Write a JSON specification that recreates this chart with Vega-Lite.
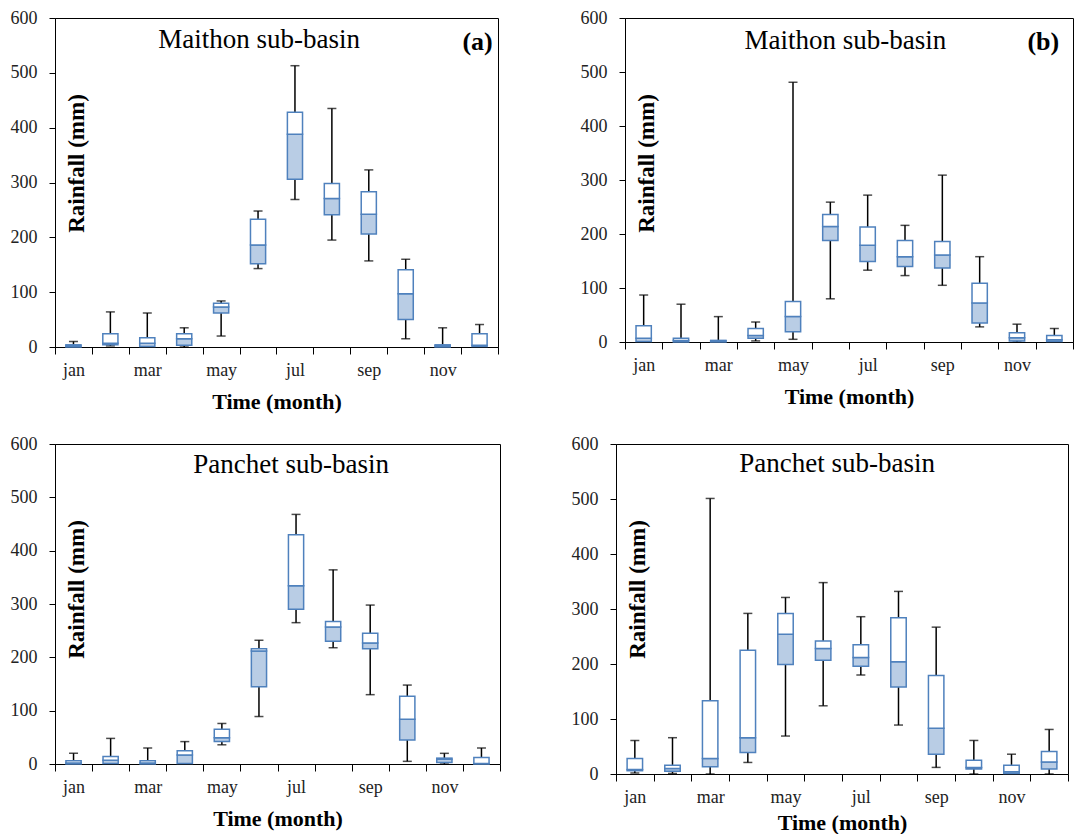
{
  "$schema": "https://vega.github.io/schema/vega-lite/v6.json",
  "padding": {"left": 9, "top": 8, "right": 0, "bottom": 0},
  "background": "white",
  "config": {
    "font": "Liberation Serif",
    "view": {"stroke": "black", "strokeWidth": 1},
    "text": {"font": "Liberation Serif"},
    "axis": {"grid": false, "domainColor": "black", "tickColor": "black", "labelColor": "#222", "titleColor": "black", "labelFont": "Liberation Serif", "titleFont": "Liberation Serif", "labelFontSize": 18, "labelFontWeight": "normal"},
    "axisX": {"tickBand": "extent", "tickSize": 7, "labelPadding": 7, "labelAngle": 0, "labelOverlap": false, "titleFontSize": 22, "titleFontWeight": "bold", "titlePadding": 12, "labelExpr": "indexof(['jan','mar','may','jul','sep','nov'], datum.value) >= 0 ? datum.value : ''"},
    "axisY": {"tickSize": 6, "labelPadding": 12, "titleFontSize": 23, "titleFontWeight": "bold", "titleAngle": -90, "titleAlign": "center", "titleBaseline": "middle", "titleX": 21, "titleY": 145}
  },
  "datasets": {
    "a": [
      {"month": "jan", "min": 0, "q1": 0, "med": 2, "q3": 4, "max": 10},
      {"month": "feb", "min": 2, "q1": 4, "med": 7, "q3": 24, "max": 64},
      {"month": "mar", "min": 0, "q1": 1, "med": 7, "q3": 17, "max": 62},
      {"month": "apr", "min": 0, "q1": 3, "med": 15, "q3": 24, "max": 35},
      {"month": "may", "min": 20, "q1": 62, "med": 73, "q3": 80, "max": 84},
      {"month": "jun", "min": 143, "q1": 152, "med": 186, "q3": 233, "max": 248},
      {"month": "jul", "min": 269, "q1": 306, "med": 388, "q3": 428, "max": 513},
      {"month": "aug", "min": 195, "q1": 241, "med": 271, "q3": 298, "max": 435},
      {"month": "sep", "min": 157, "q1": 206, "med": 242, "q3": 283, "max": 323},
      {"month": "oct", "min": 15, "q1": 50, "med": 97, "q3": 141, "max": 160},
      {"month": "nov", "min": 0, "q1": 0, "med": 2, "q3": 4, "max": 35},
      {"month": "dec", "min": 0, "q1": 1, "med": 3, "q3": 24, "max": 41}
    ],
    "b": [
      {"month": "jan", "min": 0, "q1": 1, "med": 7, "q3": 30, "max": 87},
      {"month": "feb", "min": 0, "q1": 0, "med": 3, "q3": 7, "max": 70},
      {"month": "mar", "min": 0, "q1": 0, "med": 2, "q3": 3, "max": 47},
      {"month": "apr", "min": 2, "q1": 7, "med": 12, "q3": 25, "max": 37},
      {"month": "may", "min": 5, "q1": 19, "med": 47, "q3": 75, "max": 481},
      {"month": "jun", "min": 80, "q1": 188, "med": 214, "q3": 236, "max": 259},
      {"month": "jul", "min": 133, "q1": 149, "med": 179, "q3": 213, "max": 272},
      {"month": "aug", "min": 123, "q1": 140, "med": 158, "q3": 188, "max": 216},
      {"month": "sep", "min": 105, "q1": 137, "med": 161, "q3": 186, "max": 309},
      {"month": "oct", "min": 28, "q1": 35, "med": 72, "q3": 109, "max": 158},
      {"month": "nov", "min": 0, "q1": 2, "med": 8, "q3": 17, "max": 33},
      {"month": "dec", "min": 0, "q1": 1, "med": 4, "q3": 12, "max": 25}
    ],
    "c": [
      {"month": "jan", "min": 0, "q1": 0, "med": 2, "q3": 6, "max": 20},
      {"month": "feb", "min": 0, "q1": 1, "med": 7, "q3": 14, "max": 48},
      {"month": "mar", "min": 0, "q1": 0, "med": 2, "q3": 6, "max": 30},
      {"month": "apr", "min": 0, "q1": 1, "med": 17, "q3": 25, "max": 42},
      {"month": "may", "min": 36, "q1": 42, "med": 49, "q3": 65, "max": 76},
      {"month": "jun", "min": 89, "q1": 145, "med": 212, "q3": 216, "max": 232},
      {"month": "jul", "min": 265, "q1": 290, "med": 334, "q3": 430, "max": 468},
      {"month": "aug", "min": 218, "q1": 230, "med": 257, "q3": 267, "max": 364},
      {"month": "sep", "min": 130, "q1": 216, "med": 227, "q3": 245, "max": 298},
      {"month": "oct", "min": 5, "q1": 45, "med": 84, "q3": 127, "max": 148},
      {"month": "nov", "min": 0, "q1": 3, "med": 9, "q3": 11, "max": 20},
      {"month": "dec", "min": 0, "q1": 0, "med": 1, "q3": 12, "max": 30}
    ],
    "d": [
      {"month": "jan", "min": 2, "q1": 6, "med": 8, "q3": 28, "max": 61},
      {"month": "feb", "min": 1, "q1": 5, "med": 10, "q3": 16, "max": 66},
      {"month": "mar", "min": 0, "q1": 13, "med": 28, "q3": 133, "max": 501},
      {"month": "apr", "min": 21, "q1": 39, "med": 66, "q3": 225, "max": 292},
      {"month": "may", "min": 69, "q1": 199, "med": 254, "q3": 292, "max": 321},
      {"month": "jun", "min": 124, "q1": 207, "med": 228, "q3": 242, "max": 348},
      {"month": "jul", "min": 180, "q1": 196, "med": 212, "q3": 235, "max": 286},
      {"month": "aug", "min": 89, "q1": 158, "med": 204, "q3": 284, "max": 332},
      {"month": "sep", "min": 12, "q1": 36, "med": 83, "q3": 179, "max": 267},
      {"month": "oct", "min": 0, "q1": 9, "med": 12, "q3": 25, "max": 61},
      {"month": "nov", "min": 0, "q1": 1, "med": 4, "q3": 16, "max": 36},
      {"month": "dec", "min": 0, "q1": 9, "med": 22, "q3": 41, "max": 81}
    ]
  },
  "vconcat": [
    {
      "hconcat": [
        {
          "width": 443, "height": 329,
          "data": {"name": "a"},
          "encoding": {"x": {"field": "month", "type": "nominal", "scale": {"domain": ["jan","feb","mar","apr","may","jun","jul","aug","sep","oct","nov","dec"], "paddingInner": 0, "paddingOuter": 0}, "axis": {"title": "Time (month)", "labelFont": "Liberation Serif"}}},
          "layer": [
            {"mark": {"type": "rule", "color": "black", "strokeWidth": 1.5}, "encoding": {"y": {"field": "min", "type": "quantitative", "scale": {"domain": [0, 600], "nice": false}, "axis": {"title": "Rainfall (mm)", "values": [0, 100, 200, 300, 400, 500, 600], "labelFont": "Liberation Serif"}}, "y2": {"field": "max"}}},
            {"mark": {"type": "tick", "color": "black", "size": 9, "thickness": 1.5}, "encoding": {"y": {"field": "max", "type": "quantitative"}}},
            {"mark": {"type": "tick", "color": "black", "size": 9, "thickness": 1.5}, "encoding": {"y": {"field": "min", "type": "quantitative"}}},
            {"mark": {"type": "bar", "fill": "#b9cde5", "stroke": "#4f81bd", "strokeWidth": 1.5, "width": {"band": 0.41}}, "encoding": {"y": {"field": "q1", "type": "quantitative"}, "y2": {"field": "med"}}},
            {"mark": {"type": "bar", "fill": "white", "stroke": "#4f81bd", "strokeWidth": 1.5, "width": {"band": 0.41}}, "encoding": {"y": {"field": "med", "type": "quantitative"}, "y2": {"field": "q3"}}},
            {"data": {"values": [{"month": "jun", "y": 545, "label": "Maithon sub-basin"}]}, "mark": {"type": "text", "font": "Liberation Serif", "fontSize": 27, "color": "black", "align": "center", "baseline": "alphabetic", "dx": 1}, "encoding": {"y": {"field": "y", "type": "quantitative"}, "text": {"field": "label"}}},
            {"data": {"values": [{"month": "dec", "y": 542, "label": "(a)"}]}, "mark": {"type": "text", "font": "Liberation Serif", "fontSize": 26, "fontWeight": "bold", "color": "black", "align": "center", "baseline": "alphabetic", "dx": -2}, "encoding": {"y": {"field": "y", "type": "quantitative"}, "text": {"field": "label"}}}
          ]
        },
        {
          "width": 448, "height": 324,
          "data": {"name": "b"},
          "encoding": {"x": {"field": "month", "type": "nominal", "scale": {"domain": ["jan","feb","mar","apr","may","jun","jul","aug","sep","oct","nov","dec"], "paddingInner": 0, "paddingOuter": 0}, "axis": {"title": "Time (month)", "labelFont": "Liberation Serif"}}},
          "layer": [
            {"mark": {"type": "rule", "color": "black", "strokeWidth": 1.5}, "encoding": {"y": {"field": "min", "type": "quantitative", "scale": {"domain": [0, 600], "nice": false}, "axis": {"title": "Rainfall (mm)", "values": [0, 100, 200, 300, 400, 500, 600], "labelFont": "Liberation Serif"}}, "y2": {"field": "max"}}},
            {"mark": {"type": "tick", "color": "black", "size": 9, "thickness": 1.5}, "encoding": {"y": {"field": "max", "type": "quantitative"}}},
            {"mark": {"type": "tick", "color": "black", "size": 9, "thickness": 1.5}, "encoding": {"y": {"field": "min", "type": "quantitative"}}},
            {"mark": {"type": "bar", "fill": "#b9cde5", "stroke": "#4f81bd", "strokeWidth": 1.5, "width": {"band": 0.41}}, "encoding": {"y": {"field": "q1", "type": "quantitative"}, "y2": {"field": "med"}}},
            {"mark": {"type": "bar", "fill": "white", "stroke": "#4f81bd", "strokeWidth": 1.5, "width": {"band": 0.41}}, "encoding": {"y": {"field": "med", "type": "quantitative"}, "y2": {"field": "q3"}}},
            {"data": {"values": [{"month": "jun", "y": 543, "label": "Maithon sub-basin"}]}, "mark": {"type": "text", "font": "Liberation Serif", "fontSize": 27, "color": "black", "align": "center", "baseline": "alphabetic", "dx": 15}, "encoding": {"y": {"field": "y", "type": "quantitative"}, "text": {"field": "label"}}},
            {"data": {"values": [{"month": "dec", "y": 541, "label": "(b)"}]}, "mark": {"type": "text", "font": "Liberation Serif", "fontSize": 26, "fontWeight": "bold", "color": "black", "align": "center", "baseline": "alphabetic", "dx": -11}, "encoding": {"y": {"field": "y", "type": "quantitative"}, "text": {"field": "label"}}}
          ]
        }
      ],
      "spacing": 80
    },
    {
      "hconcat": [
        {
          "width": 445, "height": 320,
          "data": {"name": "c"},
          "encoding": {"x": {"field": "month", "type": "nominal", "scale": {"domain": ["jan","feb","mar","apr","may","jun","jul","aug","sep","oct","nov","dec"], "paddingInner": 0, "paddingOuter": 0}, "axis": {"title": "Time (month)", "labelFont": "Liberation Serif"}}},
          "layer": [
            {"mark": {"type": "rule", "color": "black", "strokeWidth": 1.5}, "encoding": {"y": {"field": "min", "type": "quantitative", "scale": {"domain": [0, 600], "nice": false}, "axis": {"title": "Rainfall (mm)", "values": [0, 100, 200, 300, 400, 500, 600], "labelFont": "Liberation Serif"}}, "y2": {"field": "max"}}},
            {"mark": {"type": "tick", "color": "black", "size": 9, "thickness": 1.5}, "encoding": {"y": {"field": "max", "type": "quantitative"}}},
            {"mark": {"type": "tick", "color": "black", "size": 9, "thickness": 1.5}, "encoding": {"y": {"field": "min", "type": "quantitative"}}},
            {"mark": {"type": "bar", "fill": "#b9cde5", "stroke": "#4f81bd", "strokeWidth": 1.5, "width": {"band": 0.41}}, "encoding": {"y": {"field": "q1", "type": "quantitative"}, "y2": {"field": "med"}}},
            {"mark": {"type": "bar", "fill": "white", "stroke": "#4f81bd", "strokeWidth": 1.5, "width": {"band": 0.41}}, "encoding": {"y": {"field": "med", "type": "quantitative"}, "y2": {"field": "q3"}}},
            {"data": {"values": [{"month": "jul", "y": 546, "label": "Panchet sub-basin"}]}, "mark": {"type": "text", "font": "Liberation Serif", "fontSize": 27, "color": "black", "align": "center", "baseline": "alphabetic", "dx": -5}, "encoding": {"y": {"field": "y", "type": "quantitative"}, "text": {"field": "label"}}}
          ]
        },
        {
          "width": 452, "height": 330,
          "data": {"name": "d"},
          "encoding": {"x": {"field": "month", "type": "nominal", "scale": {"domain": ["jan","feb","mar","apr","may","jun","jul","aug","sep","oct","nov","dec"], "paddingInner": 0, "paddingOuter": 0}, "axis": {"title": "Time (month)", "titlePadding": 6, "labelFont": "Liberation Serif"}}},
          "layer": [
            {"mark": {"type": "rule", "color": "black", "strokeWidth": 1.5}, "encoding": {"y": {"field": "min", "type": "quantitative", "scale": {"domain": [0, 600], "nice": false}, "axis": {"title": "Rainfall (mm)", "values": [0, 100, 200, 300, 400, 500, 600], "labelFont": "Liberation Serif"}}, "y2": {"field": "max"}}},
            {"mark": {"type": "tick", "color": "black", "size": 9, "thickness": 1.5}, "encoding": {"y": {"field": "max", "type": "quantitative"}}},
            {"mark": {"type": "tick", "color": "black", "size": 9, "thickness": 1.5}, "encoding": {"y": {"field": "min", "type": "quantitative"}}},
            {"mark": {"type": "bar", "fill": "#b9cde5", "stroke": "#4f81bd", "strokeWidth": 1.5, "width": {"band": 0.41}}, "encoding": {"y": {"field": "q1", "type": "quantitative"}, "y2": {"field": "med"}}},
            {"mark": {"type": "bar", "fill": "white", "stroke": "#4f81bd", "strokeWidth": 1.5, "width": {"band": 0.41}}, "encoding": {"y": {"field": "med", "type": "quantitative"}, "y2": {"field": "q3"}}},
            {"data": {"values": [{"month": "jun", "y": 549, "label": "Panchet sub-basin"}]}, "mark": {"type": "text", "font": "Liberation Serif", "fontSize": 27, "color": "black", "align": "center", "baseline": "alphabetic", "dx": 14}, "encoding": {"y": {"field": "y", "type": "quantitative"}, "text": {"field": "label"}}}
          ]
        }
      ],
      "spacing": 69
    }
  ],
  "spacing": 21
}
